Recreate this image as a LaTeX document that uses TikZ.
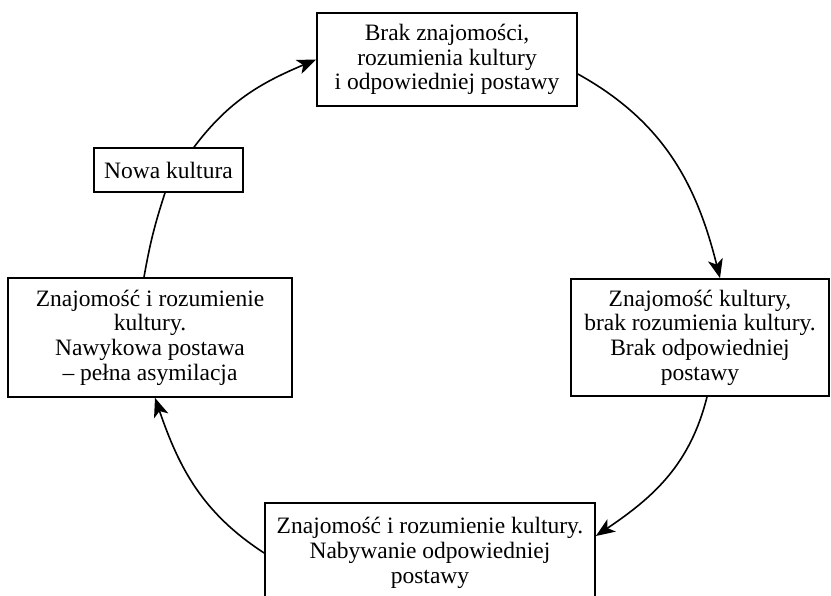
\documentclass[tikz,border=0pt]{standalone}
\usepackage{fontspec}
\setmainfont{Liberation Serif}
\usetikzlibrary{arrows.meta}
\begin{document}
\begin{tikzpicture}[x=1pt,y=1pt,
  stage/.style={draw, line width=1.7pt, fill=white, inner sep=0pt, align=center,
    font=\fontsize{23.5}{24.7}\selectfont},
  flow/.style={line width=1.6pt, -{Stealth[length=19pt,width=15pt,inset=5pt]}},
  link/.style={line width=1.6pt}]
\fill[white] (0,-596) rectangle (831,0);
\useasboundingbox (0,-596) rectangle (831,0);
\clip (0,-596) rectangle (831,0);

% stages of the cycle
\node[stage, minimum width=260pt, minimum height=93pt] (top) at (447,-59.5)
  {Brak znajomości,\\rozumienia kultury\\i odpowiedniej postawy};
\node[stage, minimum width=258pt, minimum height=117pt] (right) at (700,-337.5)
  {Znajomość kultury,\\brak rozumienia kultury.\\Brak odpowiedniej\\postawy};
\node[stage, minimum width=330pt, minimum height=100pt] (bottom) at (430,-553)
  {Znajomość i rozumienie kultury.\\Nabywanie odpowiedniej\\postawy};
\node[stage, minimum width=284pt, minimum height=119pt] (left) at (150,-337.5)
  {Znajomość i rozumienie\\kultury.\\Nawykowa postawa\\– pełna asymilacja};
\node[stage, minimum width=149pt, minimum height=44pt] (nowa) at (168.5,-170)
  {Nowa kultura};

% arcs between the stages
\draw[flow] ([yshift=-14.5pt]top.east) to[out=-29,in=104] ([xshift=20pt]right.north);
\draw[flow] ([xshift=7pt]right.south) to[out=-104,in=34] ([yshift=17pt]bottom.east);
\draw[flow] (bottom.west) to[out=147,in=-71] ([xshift=5pt]left.south);
\draw[link] ([xshift=-6pt]left.north) to[out=80,in=-108] ([xshift=-3.5pt]nowa.south);
\draw[flow] ([xshift=25.5pt]nowa.north) to[out=53,in=203] (top.west);
\end{tikzpicture}
\end{document}
